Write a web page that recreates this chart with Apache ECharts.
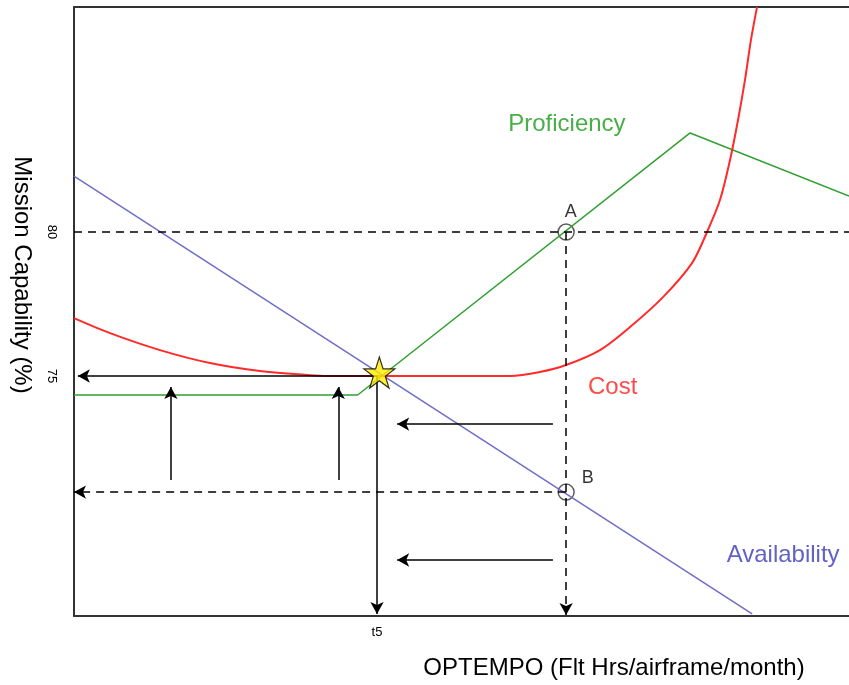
<!DOCTYPE html>
<html>
<head>
<meta charset="utf-8">
<script src="https://cdn.jsdelivr.net/npm/echarts@6/dist/echarts.min.js"></script>
<style>
  html, body { margin: 0; padding: 0; background: #fff; }
  #chart { width: 849px; height: 685px; }
</style>
</head>
<body>
<div id="chart"></div>
<script>
// 数据（x: 0-100 任意单位, y: Mission Capability %）
const yTicks = [75, 80];
const xTicks = [39.1];
const xTickLabels = ['t5'];

const availX = [0, 87.5];
const availY = [81.94, 66.74];

const profX = [0, 36.6, 79.5, 100];
const profY = [74.34, 74.34, 83.44, 81.25];

const costX = [0, 4.65, 11.1, 17.55, 24.0, 30.45, 34.3, 56.26, 60.13, 63.48, 67.87, 71.74, 76.0, 79.74, 81.68, 83.35, 84.65, 85.68, 86.58, 87.35, 88.13];
const costY = [77.01, 76.49, 75.9, 75.45, 75.17, 75.03, 75.0, 75.0, 75.14, 75.38, 75.9, 76.7, 77.74, 78.92, 80.0, 81.11, 82.5, 83.89, 85.28, 86.67, 87.81];

const optimum = [39.4, 75.12];
const pointA = [63.5, 80];
const pointB = [63.5, 70.97];

// 注释箭头 [x1, y1, x2, y2]
const solidArrows = [
  [39.1, 75, 0.5, 75],
  [39.1, 75, 39.1, 66.74],
  [12.5, 71.39, 12.5, 74.62],
  [34.1, 71.39, 34.1, 74.62],
  [61.8, 73.33, 41.7, 73.33],
  [61.8, 68.61, 41.7, 68.61]
];
const dashedArrows = [
  [63.5, 80, 63.5, 66.7],
  [63.5, 70.97, 0, 70.97]
];
const dashedLines = [
  [0, 80, 100, 80]
];

const noteNames = ['Proficiency', 'A', 'B', 'Cost', 'Availability'];
const noteX = [63.6, 64.1, 66.3, 69.5, 91.5];
const noteY = [83.72, 80.69, 71.46, 74.62, 68.78];
const noteColors = ['#1a9a1a', '#000', '#000', '#ff1a1a', '#3a3ab8'];
const noteSizes = [24, 18, 18, 24, 24];

const pairs = (xs, ys) => xs.map((x, i) => [x, ys[i]]);
const toSeg = (a) => [{ coord: [a[0], a[1]] }, { coord: [a[2], a[3]] }];

const chart = echarts.init(document.getElementById('chart'));

const FONT = 'Liberation Sans, Arial, sans-serif';
const starPath = 'path://M50,0 L61.8,35.5 L99,35.5 L69,57.5 L80.5,93 L50,71 L19.5,93 L31,57.5 L1,35.5 L38.2,35.5 Z';
const dash = { type: [8, 6], color: '#000', width: 1.5 };
const axisLine = { lineStyle: { color: '#333', width: 2 } };

const option = {
  animation: false,
  grid: { left: 74, right: 0, top: 7, bottom: 69 },
  xAxis: [
    {
      type: 'value', min: 0, max: 100,
      axisLine: axisLine,
      axisTick: { show: false },
      splitLine: { show: false },
      axisLabel: {
        customValues: xTicks,
        formatter: (v) => xTickLabels[xTicks.indexOf(v)] || '',
        color: '#000', fontFamily: FONT, fontSize: 13, margin: 10
      }
    },
    {
      // 上边框
      type: 'value', min: 0, max: 100, position: 'top',
      axisLine: axisLine,
      axisTick: { show: false },
      axisLabel: { show: false },
      splitLine: { show: false }
    }
  ],
  yAxis: {
    type: 'value', min: 66.667, max: 87.8125,
    axisLine: axisLine,
    axisTick: { show: false },
    splitLine: { show: false },
    axisLabel: {
      customValues: yTicks,
      rotate: -90,
      color: '#000', fontFamily: FONT, fontSize: 13, margin: 16
    }
  },
  graphic: [
    {
      type: 'text', x: 22, y: 275, rotation: -Math.PI / 2,
      style: { text: 'Mission Capability (%)', fill: '#000', font: '24px ' + FONT, textAlign: 'center', textVerticalAlign: 'middle' }
    },
    {
      type: 'text', x: 614, y: 668,
      style: { text: 'OPTEMPO (Flt Hrs/airframe/month)', fill: '#000', font: '24px ' + FONT, textAlign: 'center', textVerticalAlign: 'middle' }
    }
  ],
  series: [
    {
      name: 'Availability', type: 'line', data: pairs(availX, availY),
      showSymbol: false, lineStyle: { color: '#6e6ec8', width: 1.5 }
    },
    {
      name: 'Proficiency', type: 'line', data: pairs(profX, profY),
      showSymbol: false, lineStyle: { color: '#30a030', width: 1.5 }
    },
    {
      name: 'Cost', type: 'line', data: pairs(costX, costY), smooth: 0.3,
      showSymbol: false, lineStyle: { color: '#ff2a2a', width: 2 }
    },
    {
      name: 'annotations', type: 'scatter', clip: false,
      data: [pointA, pointB],
      symbol: 'circle', symbolSize: 16,
      itemStyle: { color: 'rgba(0,0,0,0)', borderColor: '#333', borderWidth: 1.5 },
      markLine: {
        silent: true,
        label: { show: false },
        symbol: ['none', 'arrow'],
        symbolSize: [10, 12],
        lineStyle: { color: '#000', width: 1.5, type: 'solid' },
        data: solidArrows.map(toSeg)
          .concat(dashedArrows.map(a => {
            const s = toSeg(a);
            s[0].lineStyle = dash;
            return s;
          }))
          .concat(dashedLines.map(a => {
            const s = toSeg(a);
            s[0].lineStyle = dash;
            s[0].symbol = 'none';
            s[1].symbol = 'none';
            return s;
          }))
      }
    },
    {
      name: 'optimum', type: 'scatter', data: [optimum],
      symbol: starPath, symbolSize: 31,
      itemStyle: { color: '#ffee00', borderColor: '#000', borderWidth: 1.2 },
      z: 5
    },
    {
      name: 'notes', type: 'scatter', symbolSize: 0,
      data: noteNames.map((n, i) => ({
        name: n, value: [noteX[i], noteY[i]],
        label: { color: noteColors[i], fontSize: noteSizes[i] }
      })),
      label: {
        show: true, position: 'inside', formatter: '{b}',
        fontFamily: FONT
      }
    }
  ]
};

chart.setOption(option);
window.addEventListener('resize', () => chart.resize());
</script>
</body>
</html>
